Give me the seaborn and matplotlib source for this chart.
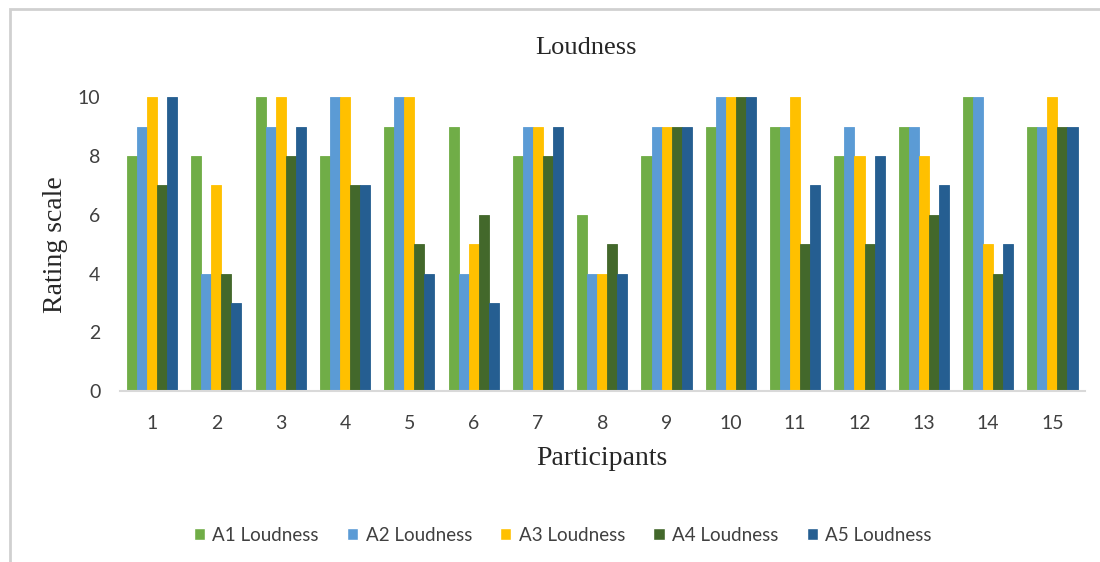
import pandas as pd
import matplotlib.pyplot as plt
import seaborn as sns

sns.set_theme(style="white")
plt.rcParams["font.family"] = ["Liberation Serif", "DejaVu Serif"]

participants = [str(i) for i in range(1, 16)]
series = ["A1 Loudness", "A2 Loudness", "A3 Loudness", "A4 Loudness", "A5 Loudness"]
a1 = [8, 8, 10, 8, 9, 9, 8, 6, 8, 9, 9, 8, 9, 10, 9]
a2 = [9, 4, 9, 10, 10, 4, 9, 4, 9, 10, 9, 9, 9, 10, 9]
a3 = [10, 7, 10, 10, 10, 5, 9, 4, 9, 10, 10, 8, 8, 5, 10]
a4 = [7, 4, 8, 7, 5, 6, 8, 5, 9, 10, 5, 5, 6, 4, 9]
a5 = [10, 3, 9, 7, 4, 3, 9, 4, 9, 10, 7, 8, 7, 5, 9]
colors = ["#70AD47", "#5B9BD5", "#FFC000", "#43682B", "#255E91"]

rows = []
for name, vals in zip(series, [a1, a2, a3, a4, a5]):
    for p, v in zip(participants, vals):
        rows.append({"Participant": p, "Series": name, "Rating": v})
data = pd.DataFrame(rows)

fig = plt.figure(figsize=(11, 5.62), dpi=100)
ax = fig.add_axes([0.109, 0.304, 0.877, 0.523])

sns.barplot(data=data, x="Participant", y="Rating", hue="Series",
            order=participants, hue_order=series, palette=colors,
            width=0.78, saturation=1, ax=ax, legend=True)
for cont, c in zip(ax.containers, colors):
    for bar in cont:
        bar.set_edgecolor(c)
        bar.set_linewidth(0.6)

ax.set_ylim(0, 10)
ax.set_yticks(range(0, 11, 2))
ax.set_xlim(-0.5, 14.5)
for s in ["top", "right", "left"]:
    ax.spines[s].set_visible(False)
ax.spines["bottom"].set_color("#D9D9D9")
ax.spines["bottom"].set_linewidth(1.5)
ax.tick_params(axis="both", labelsize=14, colors="#404040", length=0)
ax.tick_params(axis="x", pad=17)
ax.tick_params(axis="y", pad=14)
for lbl in ax.get_xticklabels() + ax.get_yticklabels():
    lbl.set_fontfamily("Lato")

ax.set_xlabel("Participants", fontsize=20, color="#262626", labelpad=10)
ax.set_ylabel("Rating scale", fontsize=20, color="#262626", labelpad=7)
fig.text(0.533, 0.915, "Loudness", ha="center", va="center",
         fontsize=19, color="#262626")

leg = ax.legend(loc="center", bbox_to_anchor=(0.459, -0.49), ncol=5,
                frameon=False, handlelength=0.6, handleheight=0.6,
                columnspacing=1.5, handletextpad=0.4,
                prop={"family": "Lato", "size": 13.5})
for t in leg.get_texts():
    t.set_color("#404040")

# light border (left and top edges visible in the source)
fig.patches.append(plt.Rectangle((10 / 1100, -0.05), 1.2, 1 - 9 / 562 + 0.05,
                                 transform=fig.transFigure, fill=False,
                                 edgecolor="#D0D0D0", linewidth=2))

fig.savefig("out.png", dpi=100)
